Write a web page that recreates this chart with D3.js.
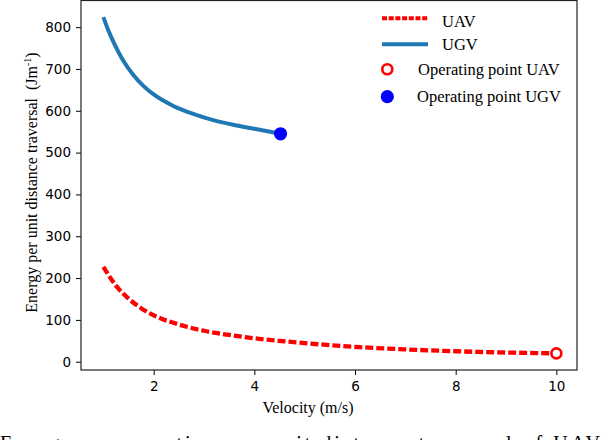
<!DOCTYPE html>
<html lang="en">
<head>
    <meta charset="UTF-8">
    <title>Energy per unit distance vs velocity</title>
    <script src="https://d3js.org/d3.v7.min.js"></script>
    <style>
        body {
            margin: 0;
            padding: 0;
            background: #fff;
        }

        svg {
            display: block;
        }

        .tick text {
            font-family: "DejaVu Sans", sans-serif;
            font-size: 13.5px;
            fill: #000;
        }

        .serif {
            font-family: "Liberation Serif", "Times New Roman", serif;
            fill: #000;
        }
    </style>
</head>
<body>
<svg id="chart"></svg>

<script>
    // data
    const ugvVelocity = [1.0, 1.1, 1.2, 1.4, 1.6, 1.8, 2.0, 2.4, 2.8, 3.2, 3.6, 4.0, 4.52];
    const ugvEnergy = [824, 792, 765, 719, 685, 659, 639, 611, 592, 577, 566, 557, 545];

    const uavVelocity = [1.0, 1.25, 1.5, 1.75, 2.0, 2.5, 3.0, 3.5, 4.0, 5.0, 6.0, 7.0, 8.0, 9.0, 10.0];
    const uavEnergy = [227, 182, 151, 128, 111, 89, 74, 64, 56, 44.5, 35.5, 29.5, 25, 22, 20];

    const uavPoint = [10.0, 20];
    const ugvPoint = [4.52, 545];

    const xTicks = [2, 4, 6, 8, 10];
    const yTicks = [0, 100, 200, 300, 400, 500, 600, 700, 800];

    const width = 602;
    const height = 440;
    const plot = { left: 81, right: 577, top: 0.5, bottom: 370 };

    const svg = d3.select("#chart")
        .attr("width", width)
        .attr("height", height);

    svg.append("rect")
        .attr("width", width)
        .attr("height", height)
        .attr("fill", "#fff");

    const x = d3.scaleLinear()
        .domain([0.556, 10.41])
        .range([plot.left, plot.right]);

    const y = d3.scaleLinear()
        .domain([-19.8, 863.7])
        .range([plot.bottom, plot.top]);

    // axes
    const xAxis = svg.append("g")
        .attr("transform", `translate(0,${plot.bottom})`)
        .call(d3.axisBottom(x).tickValues(xTicks).tickSize(5).tickPadding(6.5).tickFormat(d3.format("d")));

    const yAxis = svg.append("g")
        .attr("transform", `translate(${plot.left},0)`)
        .call(d3.axisLeft(y).tickValues(yTicks).tickSize(5).tickPadding(5).tickFormat(d3.format("d")));

    [xAxis, yAxis].forEach(g => {
        g.select(".domain").remove();
        g.selectAll(".tick line").attr("stroke", "#000").attr("stroke-width", 1);
    });

    // lines
    const line = d3.line()
        .x(d => x(d[0]))
        .y(d => y(d[1]))
        .curve(d3.curveMonotoneX);

    const ugvData = ugvVelocity.map((v, i) => [v, ugvEnergy[i]]);
    const uavData = uavVelocity.map((v, i) => [v, uavEnergy[i]]);

    svg.append("path")
        .datum(ugvData)
        .attr("d", line)
        .attr("fill", "none")
        .attr("stroke", "#1f77b4")
        .attr("stroke-width", 4);

    svg.append("path")
        .datum(uavData)
        .attr("d", line)
        .attr("fill", "none")
        .attr("stroke", "#ff0000")
        .attr("stroke-width", 4.3)
        .attr("stroke-dasharray", "8,3");

    // operating points
    svg.append("circle")
        .attr("cx", x(uavPoint[0]))
        .attr("cy", y(uavPoint[1]))
        .attr("r", 5)
        .attr("fill", "#fff")
        .attr("stroke", "#ff0000")
        .attr("stroke-width", 2.6);

    svg.append("circle")
        .attr("cx", x(ugvPoint[0]))
        .attr("cy", y(ugvPoint[1]))
        .attr("r", 6.6)
        .attr("fill", "#0000ff");

    // frame
    svg.append("rect")
        .attr("x", plot.left)
        .attr("y", plot.top)
        .attr("width", plot.right - plot.left)
        .attr("height", plot.bottom - plot.top)
        .attr("fill", "none")
        .attr("stroke", "#222")
        .attr("stroke-width", 1.2);

    // legend
    const legend = svg.append("g").attr("class", "serif").style("font-size", "16.5px");

    legend.append("line")
        .attr("x1", 382).attr("x2", 428).attr("y1", 18.3).attr("y2", 18.3)
        .attr("stroke", "#ff0000").attr("stroke-width", 4)
        .attr("stroke-dasharray", "5,1.7");
    legend.append("text").attr("x", 442).attr("y", 26.5).text("UAV");

    legend.append("line")
        .attr("x1", 382).attr("x2", 428).attr("y1", 44.3).attr("y2", 44.3)
        .attr("stroke", "#1f77b4").attr("stroke-width", 4);
    legend.append("text").attr("x", 442).attr("y", 49.5).text("UGV");

    legend.append("circle")
        .attr("cx", 387.3).attr("cy", 69.3).attr("r", 5)
        .attr("fill", "#fff").attr("stroke", "#ff0000").attr("stroke-width", 2.6);
    legend.append("text").attr("x", 418).attr("y", 75).text("Operating point UAV");

    legend.append("circle")
        .attr("cx", 387.3).attr("cy", 96.7).attr("r", 6.6)
        .attr("fill", "#0000ff");
    legend.append("text").attr("x", 417).attr("y", 101.7).text("Operating point UGV");

    // axis labels
    svg.append("text")
        .attr("class", "serif")
        .attr("x", 308)
        .attr("y", 413)
        .attr("text-anchor", "middle")
        .style("font-size", "16px")
        .text("Velocity (m/s)");

    const yLabel = svg.append("text")
        .attr("class", "serif")
        .attr("transform", "translate(36.5,182.5) rotate(-90)")
        .attr("text-anchor", "middle")
        .style("font-size", "16px")
        .style("white-space", "pre");
    yLabel.append("tspan").text("Energy per unit distance traversal  (Jm");
    yLabel.append("tspan").attr("dy", -6).style("font-size", "10px").text("-1");
    yLabel.append("tspan").attr("dy", 6).text(")");

    // caption of the page, cut by the bottom edge as in the source
    svg.append("text")
        .attr("class", "serif")
        .attr("x", 0)
        .attr("y", 450)
        .attr("textLength", 600)
        .attr("lengthAdjust", "spacing")
        .style("font-size", "20px")
        .text("Energy consumption per unit distance traversal of UAV");
</script>

</body>
</html>
